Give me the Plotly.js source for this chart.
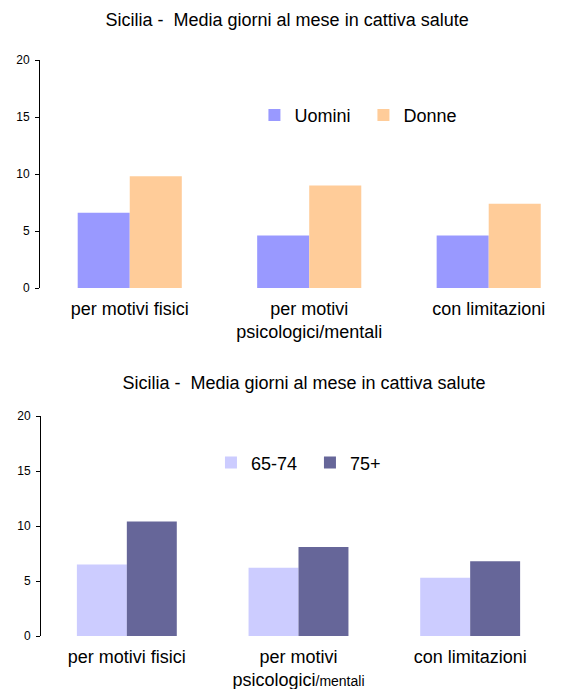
<!DOCTYPE html>
<html>
<head>
<meta charset="utf-8">
<script src="https://cdn.plot.ly/plotly-3.0.1.min.js"></script>
<style>
  html, body { margin: 0; padding: 0; background: #ffffff; }
  #sesso, #eta { width: 563px; }
</style>
</head>
<body>
<div id="sesso"></div>
<div id="eta"></div>
<script>
// Average days per month in poor health, Sicily
const titolo = 'Sicilia -  Media giorni al mese in cattiva salute';

const categorieSesso = ['per motivi fisici', 'per motivi<br>psicologici/mentali', 'con limitazioni'];
const uomini = [6.6, 4.6, 4.6];
const donne = [9.8, 9.0, 7.4];

const categorieEta = ['per motivi fisici', 'per motivi<br>psicologici<span style="font-size:14px">/mentali</span>', 'con limitazioni'];
const eta6574 = [6.5, 6.2, 5.3];
const eta75 = [10.4, 8.1, 6.8];

const FONT = '"Liberation Sans", Arial, Helvetica, sans-serif';

function yAxis() {
  return {
    range: [0, 20], dtick: 5, tick0: 0,
    showgrid: false, zeroline: false,
    showline: true, linecolor: '#000000', linewidth: 1,
    ticks: 'outside', ticklen: 4, tickcolor: '#000000', tickwidth: 1,
    tickfont: { family: FONT, size: 12, color: '#000000' },
    ticklabelstandoff: 3,
    fixedrange: true
  };
}

function xAxis(range, standoff) {
  return {
    type: 'category', range: range,
    showgrid: false, zeroline: false, showline: false, ticks: '',
    tickfont: { family: FONT, size: 18, color: '#000000' },
    ticklabelstandoff: standoff,
    fixedrange: true
  };
}

// Chart 1: men vs women
Plotly.newPlot('sesso', [
  { type: 'bar', name: 'Uomini', x: categorieSesso, y: uomini,
    marker: { color: '#9999FF', line: { width: 0 } }, hoverinfo: 'y' },
  { type: 'bar', name: 'Donne', x: categorieSesso, y: donne,
    marker: { color: '#FFCC99', line: { width: 0 } }, hoverinfo: 'y' }
], {
  width: 563, height: 345,
  margin: { l: 40, r: 0, t: 60, b: 57, pad: 0 },
  paper_bgcolor: '#ffffff', plot_bgcolor: '#ffffff',
  font: { family: FONT, color: '#000000' },
  title: { text: titolo, font: { family: FONT, size: 18, color: '#000000' },
           xref: 'container', x: 0.51, xanchor: 'center',
           yref: 'container', y: 1 - 20 / 345, yanchor: 'middle' },
  barmode: 'group', bargap: 0.42, bargroupgap: 0,
  xaxis: xAxis([-0.5, 2.414], 8),
  yaxis: yAxis(),
  showlegend: true,
  legend: { orientation: 'h', x: 0.41, xanchor: 'left', y: 0.757, yanchor: 'middle',
            font: { family: FONT, size: 18, color: '#000000' },
            bgcolor: 'rgba(0,0,0,0)', borderwidth: 0,
            entrywidth: 64, entrywidthmode: 'pixels', itemclick: false, itemdoubleclick: false }
}, { displayModeBar: false, staticPlot: true });

// Chart 2: age groups
Plotly.newPlot('eta', [
  { type: 'bar', name: '65-74', x: categorieEta, y: eta6574,
    marker: { color: '#CCCCFF', line: { width: 0 } }, hoverinfo: 'y' },
  { type: 'bar', name: '75+', x: categorieEta, y: eta75,
    marker: { color: '#666699', line: { width: 0 } }, hoverinfo: 'y' }
], {
  width: 563, height: 344,
  margin: { l: 41, r: 7, t: 71, b: 53, pad: 0 },
  paper_bgcolor: '#ffffff', plot_bgcolor: '#ffffff',
  font: { family: FONT, color: '#000000' },
  title: { text: titolo, font: { family: FONT, size: 18, color: '#000000' },
           xref: 'container', x: 304 / 563, xanchor: 'center',
           yref: 'container', y: 1 - 38 / 344, yanchor: 'middle' },
  barmode: 'group', bargap: 0.418, bargroupgap: 0,
  xaxis: xAxis([-0.5, 2.5], 8),
  yaxis: yAxis(),
  showlegend: true,
  legend: { orientation: 'h', x: 0.33, xanchor: 'left', y: 0.787, yanchor: 'middle',
            font: { family: FONT, size: 18, color: '#000000' },
            bgcolor: 'rgba(0,0,0,0)', borderwidth: 0,
            entrywidth: 54, entrywidthmode: 'pixels', itemclick: false, itemdoubleclick: false }
}, { displayModeBar: false, staticPlot: true });
</script>
</body>
</html>
